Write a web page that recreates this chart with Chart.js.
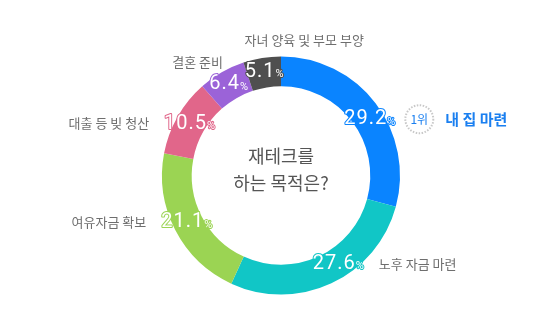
<!DOCTYPE html>
<html lang="ko">
<head>
<meta charset="utf-8">
<script src="https://cdn.jsdelivr.net/npm/chart.js@4/dist/chart.umd.min.js"></script>
<style>
    html, body { margin: 0; padding: 0; background: #fff; }
    #wrap { width: 552px; height: 310px; position: relative; }
</style>
</head>
<body>
<div id="wrap"><canvas id="purposeChart" width="552" height="310"></canvas></div>
<script>
// Chart data
const categories = ['내 집 마련', '노후 자금 마련', '여유자금 확보', '대출 등 빚 청산', '결혼 준비', '자녀 양육 및 부모 부양'];
const shares = [29.2, 27.6, 21.1, 10.5, 6.4, 5.1];
const sliceColors = ['#0a84ff', '#11c6c6', '#9bd453', '#e1668a', '#9b63d8', '#4f4f4f'];
const centerTitle = ['재테크를', '하는 목적은?'];

const KR_FONT = '"Noto Sans CJK KR", "Noto Sans", sans-serif';

// where each category name sits relative to its percentage label
const namePlacement = [
    { side: 'rank' },
    { side: 'right' },
    { side: 'left' },
    { side: 'left' },
    { side: 'above', dx: -31, dy: -22 },
    { side: 'above', dx: 40, dy: -32 }
];
// small angle nudges (degrees) for crowded labels
const angleNudge = [5, -8, 1, 0, 0, 0];

// Draws percentages, category names and the centre question
const labelPlugin = {
    id: 'purposeLabels',
    afterDatasetsDraw(chart) {
        const ctx = chart.ctx;
        const meta = chart.getDatasetMeta(0);
        const cx = meta.data[0].x;
        const cy = meta.data[0].y;

        ctx.save();
        ctx.textBaseline = 'middle';

        meta.data.forEach(function(arc, i) {
            const mid = (arc.startAngle + arc.endAngle) / 2 + angleNudge[i] * Math.PI / 180;
            const r = (arc.innerRadius + arc.outerRadius) / 2 + 1;
            const px = cx + Math.cos(mid) * r;
            const py = cy + Math.sin(mid) * r;

            // percentage: big number + small %
            const num = shares[i].toFixed(1);
            ctx.letterSpacing = '1px';
            ctx.font = '400 20px Roboto, sans-serif';
            const wNum = ctx.measureText(num).width;
            ctx.font = '400 11px Roboto, sans-serif';
            ctx.letterSpacing = '0px';
            const wPct = ctx.measureText('%').width;
            const left = px - (wNum + wPct) / 2;

            ctx.textAlign = 'left';
            ctx.lineJoin = 'round';
            ctx.strokeStyle = sliceColors[i];
            ctx.fillStyle = '#ffffff';
            ctx.letterSpacing = '1px';
            ctx.font = '400 20px Roboto, sans-serif';
            ctx.lineWidth = 2;
            ctx.strokeText(num, left, py);
            ctx.fillText(num, left, py);
            ctx.letterSpacing = '0px';
            ctx.font = '400 11px Roboto, sans-serif';
            ctx.strokeText('%', left + wNum, py + 3);
            ctx.fillText('%', left + wNum, py + 3);

            // category name
            const place = namePlacement[i];
            ctx.font = '400 13px ' + KR_FONT;
            ctx.fillStyle = '#6e6e6e';
            if (place.side === 'left') {
                ctx.textAlign = 'right';
                ctx.fillText(categories[i], left - 15, py);
            } else if (place.side === 'right') {
                ctx.textAlign = 'left';
                ctx.fillText(categories[i], left + wNum + wPct + 15, py);
            } else if (place.side === 'above') {
                ctx.textAlign = 'center';
                ctx.fillText(categories[i], px + place.dx, py + place.dy);
            } else {
                // rank badge + highlighted name
                const bx = left + wNum + wPct + 24;
                ctx.setLineDash([1.5, 1.5]);
                ctx.strokeStyle = '#c8c8c8';
                ctx.lineWidth = 2;
                ctx.beginPath();
                ctx.arc(bx, py, 14, 0, Math.PI * 2);
                ctx.stroke();
                ctx.setLineDash([]);
                ctx.textAlign = 'center';
                ctx.fillStyle = '#1a7ff0';
                ctx.font = '400 12px ' + KR_FONT;
                ctx.fillText('1위', bx, py);
                ctx.textAlign = 'left';
                ctx.font = '700 15px ' + KR_FONT;
                ctx.fillText(categories[i], bx + 26, py);
            }
        });

        // centre question
        ctx.textAlign = 'center';
        ctx.fillStyle = '#555555';
        ctx.font = '400 18px ' + KR_FONT;
        ctx.fillText(centerTitle[0], cx, cy - 19);
        ctx.fillText(centerTitle[1], cx, cy + 8);
        ctx.restore();
    }
};

new Chart(document.getElementById('purposeChart'), {
    type: 'doughnut',
    data: {
        labels: categories,
        datasets: [{
            data: shares,
            backgroundColor: sliceColors,
            borderWidth: 0
        }]
    },
    options: {
        responsive: false,
        animation: false,
        cutout: '75%',
        layout: {
            padding: { left: 10, right: 0, top: 56.5, bottom: 15.5 }
        },
        plugins: {
            legend: { display: false },
            tooltip: { enabled: false }
        }
    },
    plugins: [labelPlugin]
});
</script>
</body>
</html>
